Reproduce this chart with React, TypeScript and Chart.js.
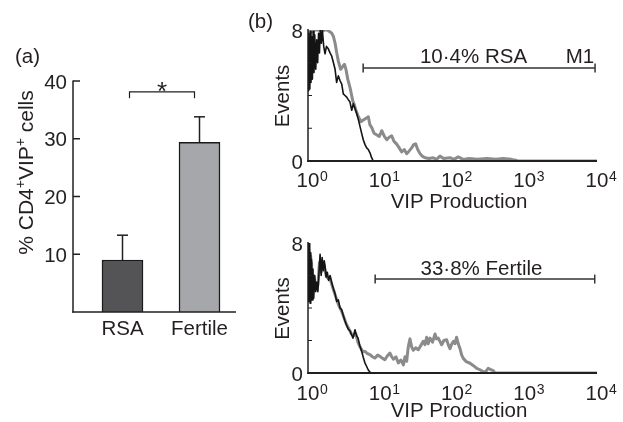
import React, { useEffect, useRef } from 'react';
import { Chart, registerables } from 'chart.js';

Chart.register(...registerables);

const FONT = '"Liberation Sans", Arial, Helvetica, sans-serif';
const INK = '#231f20';

// ---------- panel (a) data ----------
const groups = ['RSA', 'Fertile'];
const meanPct = [9.0, 29.4];
const semPct = [4.3, 4.4];
const barColors = ['#545457', '#a6a7ab'];
const pctTicks = [10, 20, 30, 40];
const sigMark = '*';

// ---------- panel (b) data ----------
const decadeTicks = [1, 10, 100, 1000, 10000];
const decadeExps = ['0', '1', '2', '3', '4'];
const eventTicks = [0, 2, 4, 6, 8];
const eventLabels = ['0', '', '', '', '8'];

const rsaGate = [5.8, 9400];
const rsaGateLevel = 5.68;
const rsaGateLabel = '10·4% RSA';
const rsaGateName = 'M1';
const fertileGate = [8.5, 9300];
const fertileGateLevel = 5.78;
const fertileGateLabel = '33·8% Fertile';

// RSA: isotype control (black) and VIP staining (grey)
const rsaControl = [
  [1.0, 4.3], [1.015, 7.8], [1.03, 4.6], [1.045, 7.5], [1.06, 4.4], [1.08, 7.9], [1.1, 4.8],
  [1.12, 7.6], [1.15, 5.0], [1.18, 7.9], [1.21, 5.4], [1.24, 7.7], [1.28, 5.6], [1.32, 7.4],
  [1.36, 6.0], [1.4, 7.8], [1.44, 6.6], [1.48, 8.0], [1.53, 7.2], [1.58, 8.0], [1.65, 7.0],
  [1.72, 6.55], [1.8, 7.0], [1.91, 6.85], [2.02, 6.6], [2.13, 6.4], [2.25, 6.0], [2.37, 5.6],
  [2.49, 4.8], [2.63, 5.2], [2.78, 4.9], [2.93, 4.7], [3.08, 4.1], [3.25, 4.0], [3.43, 3.9],
  [3.61, 3.75], [3.81, 3.6], [4.03, 3.1], [4.24, 3.5], [4.47, 3.2], [4.72, 2.9], [5.0, 2.5],
  [5.25, 2.1], [5.52, 1.7], [5.82, 1.3], [6.15, 1.0], [6.49, 0.8], [6.84, 0.7], [7.21, 0.5],
  [7.6, 0.2], [8.0, 0], [10000, 0],
];
const rsaVip = [
  [1.0, 6.8], [1.02, 7.9], [1.06, 8.0], [1.15, 7.9], [1.25, 8.0], [1.4, 8.0], [1.55, 7.9],
  [1.7, 8.0], [1.85, 8.0], [2.0, 7.9], [2.13, 7.8], [2.25, 7.6], [2.37, 7.2], [2.5, 6.6],
  [2.63, 6.1], [2.83, 5.6], [3.05, 5.8], [3.2, 5.9], [3.35, 5.6], [3.55, 5.0], [3.81, 4.5],
  [4.15, 3.7], [4.4, 3.4], [4.61, 3.1], [4.98, 2.7], [5.4, 2.4], [5.83, 2.5], [6.3, 2.6],
  [6.84, 2.7], [7.2, 2.2], [7.6, 2.05], [8.2, 1.7], [8.9, 1.6], [9.7, 1.5], [10.5, 1.85],
  [11.4, 1.5], [12.3, 1.3], [13.3, 1.45], [14.4, 1.54], [15.5, 1.2], [16.9, 1.03], [18.3, 0.8],
  [19.8, 0.55], [21.5, 0.7], [23.2, 0.45], [25, 0.6], [27.2, 0.8], [29, 1.0], [30.9, 1.05],
  [33, 0.7], [35.5, 0.45], [38, 0.3], [41.7, 0.2], [47, 0.15], [54, 0.2], [60, 0.1], [67, 0.3],
  [75, 0.15], [92, 0.2], [105, 0.1], [120, 0.25], [140, 0.1], [170, 0.15], [220, 0.1],
  [300, 0.15], [400, 0.1], [500, 0.15], [650, 0.1], [750, 0.05], [800, 0], [10000, 0],
];

// Fertile: isotype control (black) and VIP staining (grey)
const fertileControl = [
  [1.0, 8.0], [1.012, 4.4], [1.025, 7.8], [1.04, 4.6], [1.055, 8.0], [1.07, 4.3], [1.085, 7.4],
  [1.1, 4.8], [1.12, 7.0], [1.14, 4.5], [1.17, 6.4], [1.2, 4.6], [1.24, 6.0], [1.28, 5.0],
  [1.32, 5.6], [1.37, 5.0], [1.42, 6.2], [1.47, 7.3], [1.52, 6.0], [1.57, 7.1], [1.63, 6.3],
  [1.68, 6.9], [1.72, 6.6], [1.78, 5.9], [1.85, 6.2], [1.93, 5.7], [2.02, 6.0], [2.12, 5.6],
  [2.24, 5.2], [2.36, 4.9], [2.5, 4.4], [2.63, 4.5], [2.77, 4.0], [2.92, 3.9], [3.05, 3.6],
  [3.25, 3.2], [3.4, 2.97], [3.6, 2.7], [3.81, 2.6], [4.0, 2.36], [4.2, 2.15], [4.47, 2.66],
  [4.7, 2.3], [4.93, 2.15], [5.2, 1.7], [5.53, 1.33], [5.83, 0.95], [6.15, 0.61], [6.49, 0.4],
  [6.8, 0.2], [7.21, 0.05], [7.6, 0], [10000, 0],
];
const fertileVip = [
  [1.0, 7.6], [1.015, 4.6], [1.03, 7.5], [1.05, 4.8], [1.07, 7.2], [1.09, 4.9], [1.12, 6.8],
  [1.15, 5.0], [1.19, 6.0], [1.24, 5.6], [1.3, 5.3], [1.37, 5.4], [1.44, 6.8], [1.52, 6.2],
  [1.6, 6.8], [1.68, 6.6], [1.78, 6.0], [1.9, 5.8], [2.02, 5.8], [2.15, 5.4], [2.3, 5.0],
  [2.5, 4.5], [2.7, 4.1], [2.92, 3.8], [3.15, 3.4], [3.4, 3.0], [3.7, 2.7], [4.0, 2.4],
  [4.3, 2.3], [4.6, 2.4], [4.9, 1.9], [5.2, 1.64], [5.5, 1.45], [5.83, 1.31], [6.15, 1.33],
  [6.6, 1.2], [7.21, 1.13], [7.8, 1.0], [8.46, 0.92], [9.2, 1.1], [9.93, 1.02], [10.8, 0.9],
  [11.6, 0.82], [12.5, 1.05], [13.6, 1.23], [14.4, 1.0], [15.2, 0.85], [16.5, 1.0], [17.8, 0.62],
  [19.3, 0.8], [20.9, 0.5], [22, 1.0], [23.2, 0.72], [24.4, 1.6], [25.8, 2.1], [27.2, 1.6],
  [28.7, 1.4], [31, 1.55], [33.6, 1.43], [36.5, 1.7], [39.4, 1.95], [41.5, 1.75], [43.9, 2.2],
  [46, 1.8], [48.8, 2.15], [53, 1.9], [57.3, 2.4], [60, 2.1], [63.6, 2.15], [67, 1.95],
  [70.8, 1.74], [76, 2.0], [83, 2.05], [88, 1.7], [92.3, 1.5], [98, 1.8], [103, 1.95],
  [108, 1.8], [114, 2.2], [120, 1.8], [127, 1.5], [134, 1.1], [141, 0.9], [155, 0.7],
  [175, 0.6], [195, 0.45], [216, 0.29], [240, 0.2], [267, 0.08], [290, 0.1], [313, 0.29],
  [340, 0.2], [367, 0.15], [387, 0], [10000, 0],
];

// ---------- helpers ----------
const f = (px: number) => `${px}px ${FONT}`;

function seg(ctx: CanvasRenderingContext2D, x1: number, y1: number, x2: number, y2: number) {
  ctx.beginPath();
  ctx.moveTo(x1, y1);
  ctx.lineTo(x2, y2);
  ctx.stroke();
}

type Piece = [string, boolean];

function drawPieces(ctx: CanvasRenderingContext2D, pieces: Piece[], mainPx: number, supPx: number, raise: number) {
  let total = 0;
  const widths = pieces.map(([t, sup]) => {
    ctx.font = f(sup ? supPx : mainPx);
    const w = ctx.measureText(t).width;
    total += w;
    return w;
  });
  let x = -total / 2;
  ctx.textAlign = 'left';
  ctx.textBaseline = 'alphabetic';
  pieces.forEach(([t, sup], i) => {
    ctx.font = f(sup ? supPx : mainPx);
    ctx.fillText(t, x, sup ? -raise : 0);
    x += widths[i];
  });
}

// ---------- panel (a) ----------
const panelAPlugin = {
  id: 'panelA',
  afterDraw(chart: any) {
    const ctx: CanvasRenderingContext2D = chart.ctx;
    const y = chart.scales.y;
    const meta = chart.getDatasetMeta(0);
    const axisX = 73;
    const axisRight = 236;
    const y0 = y.getPixelForValue(0);
    ctx.save();
    ctx.strokeStyle = INK;
    ctx.fillStyle = INK;
    ctx.lineWidth = 1.5;
    // axes
    seg(ctx, axisX, y.getPixelForValue(40) - 0.5, axisX, y0 + 0.75);
    seg(ctx, axisX - 0.75, y0, axisRight, y0);
    // ticks + labels
    ctx.font = f(20.5);
    ctx.textAlign = 'right';
    ctx.textBaseline = 'alphabetic';
    pctTicks.forEach((v) => {
      const py = y.getPixelForValue(v);
      seg(ctx, axisX, py, axisX + 7, py);
      ctx.fillText(String(v), axisX - 6, py + 7.5);
    });
    // error bars
    meta.data.forEach((bar: any, i: number) => {
      const top = y.getPixelForValue(meanPct[i]);
      const et = y.getPixelForValue(meanPct[i] + semPct[i]);
      seg(ctx, bar.x, top, bar.x, et);
      seg(ctx, bar.x - 5.5, et, bar.x + 5.5, et);
    });
    // category labels
    ctx.textAlign = 'center';
    meta.data.forEach((bar: any, i: number) => {
      ctx.fillText(groups[i], bar.x, 335);
    });
    // significance bracket
    const bx1 = meta.data[0].x + 7;
    const bx2 = meta.data[1].x - 5;
    const by = y.getPixelForValue(38.1);
    const byt = y.getPixelForValue(37.0);
    ctx.lineWidth = 1.2;
    ctx.beginPath();
    ctx.moveTo(bx1, byt);
    ctx.lineTo(bx1, by);
    ctx.lineTo(bx2, by);
    ctx.lineTo(bx2, byt);
    ctx.stroke();
    ctx.font = f(26);
    ctx.fillText(sigMark, (bx1 + bx2) / 2, 99.5);
    // panel letter
    ctx.font = f(20.5);
    ctx.textAlign = 'left';
    ctx.fillText('(a)', 15, 63);
    // y title
    ctx.translate(33, 172.5);
    ctx.rotate(-Math.PI / 2);
    drawPieces(ctx, [['% CD4', false], ['+', true], ['VIP', false], ['+', true], [' cells', false]], 21, 14, 8);
    ctx.restore();
  },
};

function makeBarChart(canvas: HTMLCanvasElement) {
  return new Chart(canvas, {
    type: 'bar',
    data: {
      labels: groups,
      datasets: [
        {
          data: meanPct,
          backgroundColor: barColors,
          borderColor: '#1a1a1a',
          borderWidth: 1.5,
          barThickness: 41,
        },
      ],
    },
    options: {
      responsive: false,
      animation: false,
      layout: { padding: { left: 84, right: 385, top: 81, bottom: 110 } },
      plugins: { legend: { display: false }, tooltip: { enabled: false } },
      scales: {
        x: { display: false, offset: true },
        y: { display: false, min: 0, max: 40 },
      },
    },
    plugins: [panelAPlugin],
  } as any);
}

// ---------- panel (b) ----------
interface HistCfg {
  control: number[][];
  vip: number[][];
  padTop: number;
  padBottom: number;
  gate: number[];
  gateLevel: number;
  gateLabel: string;
  gateLabelX: number;
  gateName?: string;
  gateNameX?: number;
  showLetter: boolean;
  tickBaselineGap: number;
  titleBaselineGap: number;
}

function makeHistPlugin(cfg: HistCfg) {
  return {
    id: 'hist',
    afterDraw(chart: any) {
      const ctx: CanvasRenderingContext2D = chart.ctx;
      const x = chart.scales.x;
      const y = chart.scales.y;
      const area = chart.chartArea;
      ctx.save();
      ctx.strokeStyle = INK;
      ctx.fillStyle = INK;
      // axes
      ctx.lineWidth = 1.5;
      seg(ctx, area.left, area.top - 1, area.left, area.bottom + 1);
      ctx.lineWidth = 2;
      seg(ctx, area.left - 0.75, area.bottom, area.right, area.bottom);
      // y ticks
      ctx.lineWidth = 1;
      ctx.font = f(20.5);
      ctx.textAlign = 'right';
      ctx.textBaseline = 'alphabetic';
      eventTicks.forEach((v, i) => {
        const py = y.getPixelForValue(v);
        if (i > 0 && i < eventTicks.length - 1) seg(ctx, area.left, py, area.left + 4, py);
        if (eventLabels[i]) ctx.fillText(eventLabels[i], area.left - 5, py + 7.5);
      });
      // x tick labels 10^n
      const tb = area.bottom + cfg.tickBaselineGap;
      decadeTicks.forEach((v, i) => {
        const px = x.getPixelForValue(v);
        ctx.font = f(20.5);
        ctx.textAlign = 'center';
        ctx.fillText('10', px, tb);
        const w = ctx.measureText('10').width;
        ctx.font = f(14);
        ctx.textAlign = 'left';
        ctx.fillText(decadeExps[i], px + w / 2 + 0.5, tb - 6);
      });
      // axis titles
      ctx.font = f(20.5);
      ctx.textAlign = 'center';
      ctx.fillText('VIP Production', 459, area.bottom + cfg.titleBaselineGap);
      ctx.save();
      ctx.translate(289, (area.top + area.bottom) / 2 + 0.5);
      ctx.rotate(-Math.PI / 2);
      ctx.fillText('Events', 0, 0);
      ctx.restore();
      // gate marker
      const gy = y.getPixelForValue(cfg.gateLevel);
      const gx1 = x.getPixelForValue(cfg.gate[0]);
      const gx2 = x.getPixelForValue(cfg.gate[1]);
      ctx.strokeStyle = '#333';
      ctx.lineWidth = 1.5;
      seg(ctx, gx1, gy, gx2, gy);
      seg(ctx, gx1, gy - 4.5, gx1, gy + 4.5);
      seg(ctx, gx2, gy - 4.5, gx2, gy + 4.5);
      ctx.fillText(cfg.gateLabel, cfg.gateLabelX, gy - 4.5);
      if (cfg.gateName && cfg.gateNameX) ctx.fillText(cfg.gateName, cfg.gateNameX, gy - 4.5);
      if (cfg.showLetter) {
        ctx.textAlign = 'left';
        ctx.fillText('(b)', 248, 28);
      }
      ctx.restore();
    },
  };
}

function makeHistChart(canvas: HTMLCanvasElement, cfg: HistCfg) {
  return new Chart(canvas, {
    type: 'line',
    data: {
      datasets: [
        {
          label: 'Isotype control',
          data: cfg.control.map(([vx, vy]) => ({ x: vx, y: vy })),
          borderColor: '#141414',
          borderWidth: 1.6,
          pointRadius: 0,
          tension: 0,
          borderJoinStyle: 'round',
        },
        {
          label: 'VIP',
          data: cfg.vip.map(([vx, vy]) => ({ x: vx, y: vy })),
          borderColor: '#8b8b8b',
          borderWidth: 3,
          pointRadius: 0,
          tension: 0,
          borderJoinStyle: 'round',
        },
      ],
    },
    options: {
      responsive: false,
      animation: false,
      layout: { padding: { left: 308, right: 26, top: cfg.padTop, bottom: cfg.padBottom } },
      plugins: { legend: { display: false }, tooltip: { enabled: false } },
      scales: {
        x: { type: 'logarithmic', display: false, min: decadeTicks[0], max: decadeTicks[decadeTicks.length - 1] },
        y: { display: false, min: eventTicks[0], max: eventTicks[eventTicks.length - 1] },
      },
    },
    plugins: [makeHistPlugin(cfg)],
  } as any);
}

const topCfg: HistCfg = {
  control: rsaControl,
  vip: rsaVip,
  padTop: 30,
  padBottom: 261,
  gate: rsaGate,
  gateLevel: rsaGateLevel,
  gateLabel: rsaGateLabel,
  gateLabelX: 473.5,
  gateName: rsaGateName,
  gateNameX: 580,
  showLetter: true,
  tickBaselineGap: 26,
  titleBaselineGap: 47,
};

const bottomCfg: HistCfg = {
  control: fertileControl,
  vip: fertileVip,
  padTop: 243,
  padBottom: 49,
  gate: fertileGate,
  gateLevel: fertileGateLevel,
  gateLabel: fertileGateLabel,
  gateLabelX: 481.5,
  showLetter: false,
  tickBaselineGap: 27,
  titleBaselineGap: 43.5,
};

export default function App() {
  const aRef = useRef<HTMLCanvasElement>(null);
  const topRef = useRef<HTMLCanvasElement>(null);
  const botRef = useRef<HTMLCanvasElement>(null);

  useEffect(() => {
    const charts = [
      makeBarChart(aRef.current as HTMLCanvasElement),
      makeHistChart(topRef.current as HTMLCanvasElement, topCfg),
      makeHistChart(botRef.current as HTMLCanvasElement, bottomCfg),
    ];
    return () => charts.forEach((c) => c.destroy());
  }, []);

  const cs: React.CSSProperties = { position: 'absolute', left: 0, top: 0, width: 623, height: 422 };
  return (
    <div style={{ position: 'absolute', left: 0, top: 0, width: 623, height: 422, background: '#fff' }}>
      <canvas ref={aRef} width={623} height={422} style={cs} />
      <canvas ref={topRef} width={623} height={422} style={cs} />
      <canvas ref={botRef} width={623} height={422} style={cs} />
    </div>
  );
}
